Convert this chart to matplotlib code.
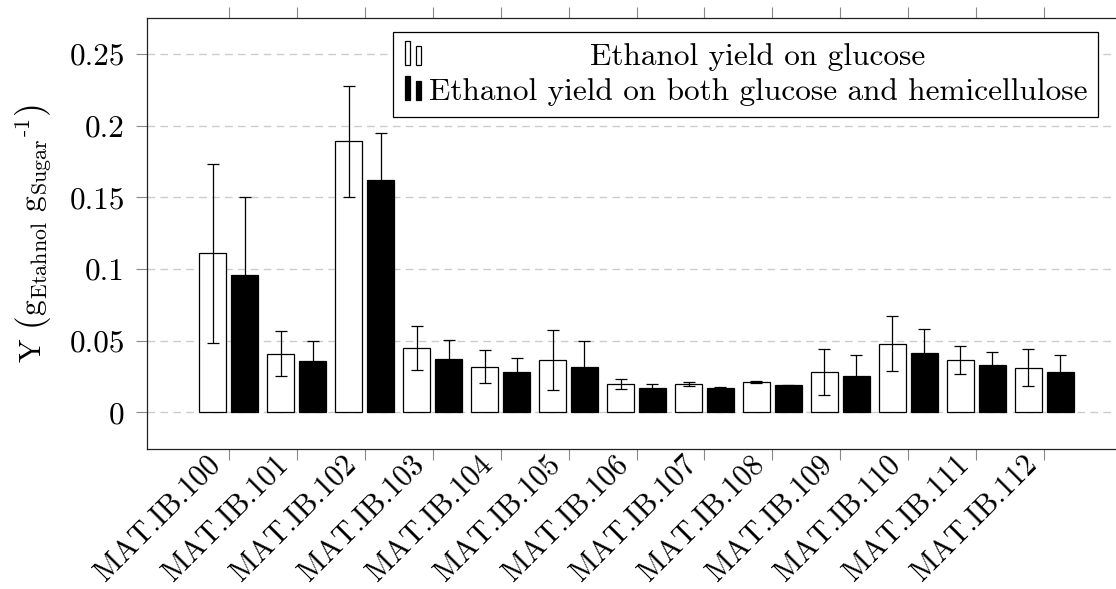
import matplotlib
matplotlib.use("Agg")
import matplotlib.pyplot as plt
import matplotlib.transforms as mtransforms
import numpy as np
from matplotlib.legend_handler import HandlerBase
from matplotlib.patches import Rectangle
from matplotlib.ticker import FixedLocator, FuncFormatter

plt.rcParams['font.family'] = ['cmr10', 'DejaVu Serif']
plt.rcParams['mathtext.fontset'] = 'cm'
plt.rcParams['axes.formatter.use_mathtext'] = True

categories = ["MAT.IB.100", "MAT.IB.101", "MAT.IB.102", "MAT.IB.103", "MAT.IB.104",
              "MAT.IB.105", "MAT.IB.106", "MAT.IB.107", "MAT.IB.108", "MAT.IB.109",
              "MAT.IB.110", "MAT.IB.111", "MAT.IB.112"]
glucose = [0.111, 0.041, 0.189, 0.045, 0.032, 0.0365, 0.0195, 0.0195, 0.021, 0.028, 0.048, 0.0365, 0.031]
glucose_err = [0.0625, 0.0155, 0.0387, 0.0155, 0.0115, 0.021, 0.0035, 0.0014, 0.0008, 0.016, 0.0192, 0.0099, 0.0129]
both = [0.096, 0.036, 0.162, 0.0375, 0.028, 0.0315, 0.017, 0.017, 0.019, 0.0257, 0.0415, 0.033, 0.0285]
both_err = [0.054, 0.0138, 0.033, 0.013, 0.0097, 0.018, 0.0025, 0.001, 0.0004, 0.0146, 0.0165, 0.0089, 0.0114]
yticks = [0, 0.05, 0.1, 0.15, 0.2, 0.25]
labels = ["Ethanol yield on glucose", "Ethanol yield on both glucose and hemicellulose"]

FS = 22.5
XFS = 21.5
fig = plt.figure(figsize=(11.16, 5.89), dpi=100)
ax = fig.add_axes([147/1116, 1 - 449/589, (1126-147)/1116, (449-18)/589])

x = np.arange(len(categories))
w = 0.39
off = 0.235
ekw = dict(ecolor='black', elinewidth=0.9, capsize=4.2, capthick=0.9)
b1 = ax.bar(x - off, glucose, w, color='white', edgecolor='black', linewidth=0.9,
            yerr=glucose_err, error_kw=ekw, zorder=3, label=labels[0])
b2 = ax.bar(x + off, both, w, color='black', edgecolor='black', linewidth=0.9,
            yerr=both_err, error_kw=ekw, zorder=3, label=labels[1])

ax.set_xlim(-1.2, 13.2)
ax.set_ylim(-0.0255, 0.275)
ax.yaxis.set_major_locator(FixedLocator(yticks))
ax.yaxis.set_major_formatter(FuncFormatter(lambda v, p: f"{v:g}"))
ax.set_xticks(x)
ax.set_xticklabels(categories, rotation=45, ha='right', va='center', rotation_mode='anchor')
ax.grid(axis='y', color='#cccccc', linestyle=(0, (5.5, 3.8)), linewidth=1.0, zorder=0)
ax.set_axisbelow(True)

ax.tick_params(axis='x', which='both', direction='out', length=8, width=0.8, color='#888888',
               top=True, bottom=True, labelsize=XFS, pad=9)
ax.tick_params(axis='y', which='both', direction='out', length=8, width=0.8, color='#888888',
               left=True, right=False, labelsize=FS, pad=8)
for s in ax.spines.values():
    s.set_color('#222222')
    s.set_linewidth(0.9)

shift = mtransforms.ScaledTranslation(-12/100, 12/100, fig.dpi_scale_trans)
for lab in ax.get_xticklabels():
    lab.set_transform(lab.get_transform() + shift)

ax.set_ylabel(r'Y $\left(\mathrm{g}_{\mathrm{Etahnol}}\ {\mathrm{g}_{\mathrm{Sugar}}}^{\mathrm{\text{-}1}}\right)$',
              fontsize=FS, labelpad=11)


class TwoBarHandler(HandlerBase):
    def __init__(self, face):
        super().__init__()
        self.face = face

    def create_artists(self, legend, orig_handle, xdescent, ydescent, width, height, fontsize, trans):
        bw = width * 0.25
        r1 = Rectangle((-xdescent + width*0.05, -ydescent), bw, height*1.1,
                       facecolor=self.face, edgecolor='black', lw=0.9, transform=trans)
        r2 = Rectangle((-xdescent + width*0.05 + bw*2.0, -ydescent), bw, height*0.85,
                       facecolor=self.face, edgecolor='black', lw=0.9, transform=trans)
        return [r1, r2]


leg = ax.legend([b1, b2], labels, loc='upper right', bbox_to_anchor=(0.9714, 0.9675),
                borderaxespad=0, fontsize=FS, frameon=True, fancybox=False,
                edgecolor='black', framealpha=1, handlelength=0.7, handletextpad=0.1,
                borderpad=0.35, labelspacing=0.22,
                handler_map={b1: TwoBarHandler('white'), b2: TwoBarHandler('black')})
leg.get_frame().set_linewidth(0.9)

# center the shorter label within the legend column
fig.canvas.draw()
r = fig.canvas.get_renderer()
t1, t2 = leg.get_texts()
w1 = t1.get_window_extent(r).width
w2 = t2.get_window_extent(r).width
t1.set_x((w2 - w1) / 2)

fig.savefig("out.png", dpi=100)
